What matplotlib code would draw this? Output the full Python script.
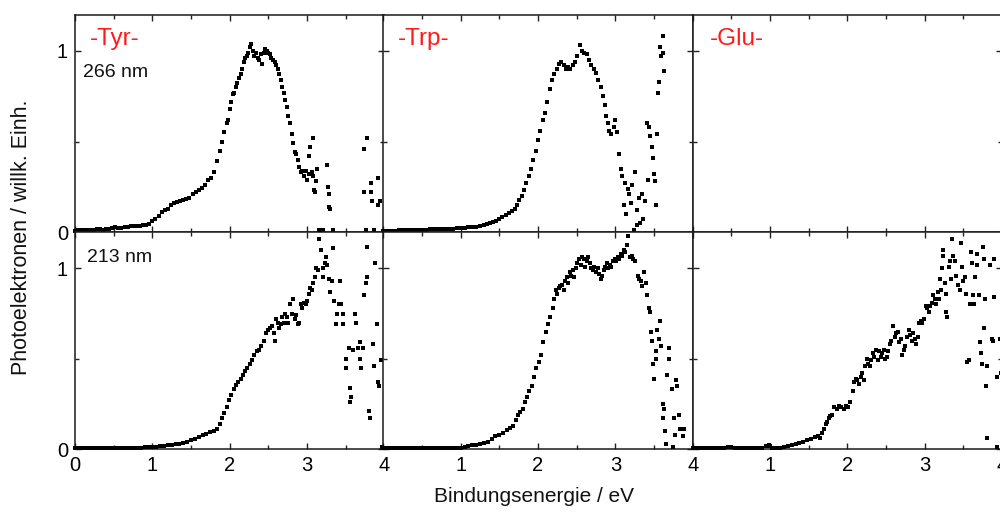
import matplotlib
matplotlib.use("Agg")
import matplotlib.pyplot as plt
from matplotlib.ticker import MultipleLocator, FixedLocator

plt.rcParams['font.family'] = ['Liberation Sans', 'DejaVu Sans']

# --- photoelectron spectra (binding energy in eV, normalised intensity) ---
tyr266_x = [0.00, 0.04, 0.08, 0.12, 0.16, 0.20, 0.24, 0.28, 0.32, 0.36, 0.40, 0.44, 0.48, 0.52,
            0.56, 0.60, 0.64, 0.68, 0.72, 0.76, 0.80, 0.84, 0.88, 0.92, 0.96, 1.00, 1.04, 1.08,
            1.12, 1.16, 1.20, 1.24, 1.28, 1.32, 1.36, 1.40, 1.44, 1.48, 1.52, 1.56, 1.60, 1.64,
            1.68, 1.72, 1.76, 1.80, 1.84, 1.87, 1.90, 1.93, 1.96, 1.98, 2.00, 2.02, 2.04, 2.06,
            2.08, 2.10, 2.12, 2.14, 2.16, 2.18, 2.20, 2.22, 2.24, 2.26, 2.28, 2.30, 2.32, 2.34,
            2.36, 2.38, 2.40, 2.42, 2.44, 2.46, 2.48, 2.50, 2.52, 2.54, 2.56, 2.58, 2.60, 2.62,
            2.64, 2.66, 2.68, 2.70, 2.72, 2.74, 2.76, 2.78, 2.80, 2.82, 2.84, 2.86, 2.88, 2.90,
            2.92, 2.94, 2.96, 2.98, 3.00, 3.02, 3.03, 3.04, 3.08, 3.06, 3.08, 3.09, 3.10, 3.12,
            3.13, 3.16, 3.18, 3.20, 3.26, 3.27, 3.28, 3.29, 3.30, 3.33, 3.74, 3.74, 3.76, 3.78,
            3.83, 3.83, 3.84, 3.86, 3.92, 3.92, 3.94]
tyr266_y = [0.008, 0.010, 0.010, 0.012, 0.011, 0.013, 0.014, 0.018, 0.015, 0.013, 0.016, 0.020,
            0.025, 0.028, 0.024, 0.022, 0.027, 0.030, 0.032, 0.034, 0.036, 0.035, 0.040, 0.042,
            0.046, 0.060, 0.070, 0.090, 0.110, 0.120, 0.130, 0.150, 0.160, 0.165, 0.170, 0.180,
            0.185, 0.190, 0.210, 0.220, 0.230, 0.245, 0.260, 0.290, 0.300, 0.330, 0.390, 0.450,
            0.500, 0.550, 0.600, 0.620, 0.680, 0.720, 0.760, 0.770, 0.800, 0.820, 0.850, 0.870,
            0.900, 0.940, 0.960, 0.970, 0.990, 1.020, 1.040, 1.000, 0.970, 0.990, 0.960, 0.950,
            0.980, 0.930, 0.990, 1.010, 1.000, 0.990, 0.980, 0.960, 0.950, 0.940, 0.920, 0.900,
            0.870, 0.840, 0.800, 0.770, 0.730, 0.690, 0.640, 0.600, 0.540, 0.490, 0.440, 0.430,
            0.400, 0.360, 0.330, 0.340, 0.310, 0.340, 0.290, 0.320, 0.420, 0.470, 0.520, 0.330,
            0.310, 0.230, 0.220, 0.280, 0.350, 0.010, 0.005, 0.010, 0.370, 0.250, 0.210, 0.140,
            0.130, 0.010, 0.460, 0.220, 0.010, 0.520, 0.270, 0.220, 0.170, 0.010, 0.300, 0.150,
            0.170]

tyr213_x = [0.00, 0.05, 0.10, 0.15, 0.20, 0.25, 0.30, 0.35, 0.40, 0.45, 0.50, 0.55, 0.60, 0.65,
            0.70, 0.75, 0.80, 0.85, 0.90, 0.95, 1.00, 1.05, 1.10, 1.15, 1.20, 1.25, 1.30, 1.35,
            1.40, 1.45, 1.50, 1.55, 1.60, 1.65, 1.70, 1.75, 1.80, 1.84, 1.87, 1.90, 1.93, 1.96,
            1.99, 2.02, 2.05, 2.08, 2.11, 2.14, 2.17, 2.20, 2.23, 2.26, 2.29, 2.32, 2.35, 2.38,
            2.41, 2.44, 2.47, 2.50, 2.52, 2.55, 2.57, 2.58, 2.60, 2.62, 2.64, 2.66, 2.68, 2.70,
            2.72, 2.74, 2.76, 2.78, 2.80, 2.82, 2.84, 2.86, 2.88, 2.90, 2.92, 2.94, 2.96, 2.98,
            3.00, 3.02, 3.04, 3.06, 3.08, 3.10, 3.12, 3.14, 3.16, 3.16, 3.18, 3.20, 3.21, 3.23,
            3.24, 3.26, 3.28, 3.30, 3.32, 3.34, 3.35, 3.37, 3.39, 3.41, 3.43, 3.44, 3.46, 3.47,
            3.50, 3.51, 3.54, 3.55, 3.56, 3.57, 3.60, 3.62, 3.63, 3.66, 3.68, 3.69, 3.70, 3.72,
            3.74, 3.76, 3.77, 3.78, 3.80, 3.82, 3.85, 3.86, 3.88, 3.90, 3.92, 3.93, 3.96, 3.97]
tyr213_y = [0.004, 0.004, 0.005, 0.004, 0.003, 0.004, 0.005, 0.004, 0.003, 0.004, 0.005, 0.006,
            0.005, 0.006, 0.007, 0.008, 0.007, 0.008, 0.010, 0.010, 0.010, 0.012, 0.014, 0.016,
            0.020, 0.022, 0.028, 0.030, 0.034, 0.040, 0.048, 0.058, 0.065, 0.075, 0.085, 0.092,
            0.100, 0.110, 0.140, 0.170, 0.200, 0.235, 0.270, 0.300, 0.330, 0.355, 0.370, 0.390,
            0.410, 0.430, 0.450, 0.470, 0.490, 0.520, 0.540, 0.550, 0.570, 0.600, 0.640, 0.660,
            0.670, 0.680, 0.640, 0.600, 0.720, 0.700, 0.670, 0.690, 0.730, 0.700, 0.750, 0.730,
            0.700, 0.800, 0.750, 0.830, 0.720, 0.740, 0.690, 0.700, 0.800, 0.780, 0.810, 0.800,
            0.820, 0.860, 0.890, 0.880, 0.920, 0.950, 1.000, 0.990, 1.160, 1.210, 1.100, 1.000,
            0.950, 1.030, 1.060, 1.020, 0.940, 0.870, 0.930, 1.110, 0.820, 0.690, 0.750, 0.800,
            0.930, 0.800, 0.750, 0.690, 0.500, 0.450, 0.560, 0.340, 0.260, 0.290, 0.550, 0.750,
            0.700, 0.560, 0.590, 0.500, 0.450, 0.560, 0.850, 0.920, 1.120, 0.950, 0.210, 0.170,
            0.580, 0.460, 1.030, 0.690, 0.370, 0.350, 0.490, 0.010]

trp266_x = [0.00, 0.05, 0.10, 0.15, 0.20, 0.25, 0.30, 0.35, 0.40, 0.45, 0.50, 0.55, 0.60, 0.65,
            0.70, 0.75, 0.80, 0.85, 0.90, 0.95, 1.00, 1.05, 1.10, 1.15, 1.20, 1.25, 1.30, 1.34,
            1.38, 1.42, 1.46, 1.50, 1.54, 1.58, 1.62, 1.66, 1.70, 1.73, 1.76, 1.79, 1.82, 1.85,
            1.88, 1.91, 1.94, 1.97, 2.00, 2.03, 2.06, 2.09, 2.12, 2.15, 2.18, 2.21, 2.24, 2.27,
            2.30, 2.33, 2.36, 2.39, 2.42, 2.45, 2.48, 2.51, 2.54, 2.57, 2.60, 2.63, 2.66, 2.69,
            2.72, 2.75, 2.78, 2.81, 2.84, 2.86, 2.88, 2.90, 2.92, 2.95, 2.98, 3.00, 3.02, 3.05,
            3.07, 3.09, 3.11, 3.13, 3.14, 3.16, 3.18, 3.20, 3.22, 3.24, 3.26, 3.28, 3.30, 3.32,
            3.34, 3.36, 3.38, 3.41, 3.42, 3.44, 3.45, 3.47, 3.49, 3.50, 3.51, 3.52, 3.54, 3.55,
            3.57, 3.58, 3.59, 3.61, 3.62, 3.63]
trp266_y = [0.008, 0.008, 0.009, 0.009, 0.010, 0.010, 0.011, 0.012, 0.012, 0.013, 0.013, 0.014,
            0.015, 0.016, 0.016, 0.018, 0.018, 0.020, 0.020, 0.022, 0.022, 0.024, 0.026, 0.028,
            0.030, 0.032, 0.038, 0.046, 0.050, 0.058, 0.064, 0.070, 0.085, 0.095, 0.105, 0.115,
            0.130, 0.150, 0.175, 0.200, 0.230, 0.270, 0.310, 0.350, 0.400, 0.450, 0.510, 0.560,
            0.620, 0.660, 0.720, 0.790, 0.840, 0.870, 0.900, 0.930, 0.940, 0.920, 0.900, 0.910,
            0.900, 0.920, 0.940, 0.970, 1.030, 1.000, 0.990, 0.980, 0.950, 0.920, 0.900, 0.880,
            0.840, 0.800, 0.750, 0.700, 0.640, 0.600, 0.560, 0.540, 0.580, 0.620, 0.550, 0.430,
            0.350, 0.310, 0.150, 0.270, 0.100, 0.240, 0.210, 0.160, 0.260, 0.010, 0.330, 0.120,
            0.190, 0.050, 0.210, 0.070, 0.170, 0.600, 0.290, 0.580, 0.530, 0.470, 0.410, 0.320,
            0.280, 0.150, 0.540, 0.770, 0.830, 1.020, 0.970, 1.080, 0.990, 0.890]

trp213_x = [0.00, 0.05, 0.10, 0.15, 0.20, 0.25, 0.30, 0.35, 0.40, 0.45, 0.50, 0.55, 0.60, 0.65,
            0.70, 0.75, 0.80, 0.85, 0.90, 0.95, 1.00, 1.05, 1.10, 1.15, 1.20, 1.25, 1.30, 1.35,
            1.40, 1.45, 1.50, 1.55, 1.60, 1.64, 1.68, 1.71, 1.74, 1.77, 1.80, 1.83, 1.86, 1.89,
            1.92, 1.95, 1.98, 2.01, 2.04, 2.07, 2.10, 2.13, 2.16, 2.19, 2.21, 2.23, 2.25, 2.27,
            2.29, 2.31, 2.33, 2.35, 2.37, 2.39, 2.41, 2.43, 2.45, 2.47, 2.49, 2.51, 2.53, 2.55,
            2.57, 2.59, 2.61, 2.63, 2.65, 2.67, 2.69, 2.71, 2.73, 2.75, 2.77, 2.79, 2.81, 2.83,
            2.85, 2.87, 2.89, 2.91, 2.93, 2.95, 2.97, 2.99, 3.01, 3.03, 3.05, 3.07, 3.09, 3.11,
            3.13, 3.15, 3.17, 3.19, 3.21, 3.23, 3.25, 3.28, 3.29, 3.31, 3.33, 3.35, 3.37, 3.39,
            3.41, 3.43, 3.45, 3.46, 3.47, 3.49, 3.50, 3.52, 3.53, 3.54, 3.56, 3.58, 3.59, 3.61,
            3.62, 3.63, 3.64, 3.65, 3.67, 3.69, 3.70, 3.73, 3.74, 3.76, 3.77, 3.79, 3.80, 3.82,
            3.84, 3.88, 3.89]
trp213_y = [0.003, 0.003, 0.004, 0.004, 0.003, 0.004, 0.004, 0.005, 0.004, 0.005, 0.005, 0.005,
            0.006, 0.006, 0.006, 0.007, 0.007, 0.007, 0.008, 0.008, 0.008, 0.012, 0.018, 0.020,
            0.022, 0.028, 0.032, 0.040, 0.055, 0.070, 0.080, 0.090, 0.105, 0.115, 0.125, 0.160,
            0.190, 0.205, 0.220, 0.260, 0.290, 0.320, 0.350, 0.400, 0.450, 0.480, 0.520, 0.590,
            0.650, 0.690, 0.730, 0.780, 0.830, 0.880, 0.860, 0.890, 0.900, 0.910, 0.880, 0.930,
            0.950, 0.920, 0.980, 0.960, 0.990, 0.950, 1.000, 1.030, 1.050, 1.020, 1.060, 1.050,
            1.010, 1.040, 1.060, 1.030, 1.000, 0.990, 1.010, 0.980, 1.000, 0.970, 0.940, 0.960,
            0.990, 1.010, 1.030, 1.000, 1.020, 1.010, 1.040, 1.050, 1.040, 1.060, 1.050, 1.080,
            1.070, 1.100, 1.090, 1.130, 1.180, 1.060, 1.070, 1.050, 1.040, 1.240, 0.960, 0.940,
            0.930, 0.900, 0.980, 0.920, 0.850, 0.780, 0.760, 0.650, 0.600, 0.470, 0.390, 0.540,
            0.500, 0.660, 0.610, 0.710, 0.570, 0.250, 0.170, 0.220, 0.100, 0.030, 0.410, 0.560,
            0.500, 0.330, 0.010, 0.170, 0.080, 0.380, 0.350, 0.190, 0.110, 0.070, 0.110]

glu213_x = [0.00, 0.05, 0.10, 0.15, 0.20, 0.25, 0.30, 0.35, 0.40, 0.45, 0.50, 0.55, 0.60, 0.65,
            0.70, 0.75, 0.80, 0.85, 0.90, 0.95, 0.98, 1.00, 1.03, 1.08, 1.13, 1.18, 1.23, 1.28,
            1.33, 1.38, 1.43, 1.48, 1.53, 1.58, 1.62, 1.65, 1.67, 1.70, 1.72, 1.74, 1.76, 1.78,
            1.80, 1.83, 1.86, 1.89, 1.92, 1.95, 1.98, 2.01, 2.04, 2.07, 2.09, 2.11, 2.13, 2.15,
            2.17, 2.19, 2.21, 2.23, 2.25, 2.27, 2.29, 2.31, 2.33, 2.35, 2.37, 2.39, 2.41, 2.43,
            2.45, 2.47, 2.49, 2.51, 2.53, 2.55, 2.57, 2.59, 2.61, 2.63, 2.65, 2.67, 2.69, 2.71,
            2.73, 2.75, 2.77, 2.79, 2.81, 2.83, 2.85, 2.87, 2.89, 2.91, 2.93, 2.95, 2.97, 2.99,
            3.01, 3.03, 3.05, 3.07, 3.09, 3.11, 3.13, 3.15, 3.17, 3.18, 3.20, 3.21, 3.22, 3.23,
            3.24, 3.26, 3.27, 3.28, 3.29, 3.31, 3.32, 3.34, 3.35, 3.37, 3.39, 3.41, 3.43, 3.45,
            3.47, 3.48, 3.50, 3.52, 3.53, 3.55, 3.57, 3.58, 3.60, 3.61, 3.63, 3.64, 3.65, 3.67,
            3.68, 3.70, 3.72, 3.73, 3.74, 3.75, 3.76, 3.77, 3.78, 3.79, 3.80, 3.81, 3.85, 3.87,
            3.88, 3.89, 3.90, 3.93, 3.94, 3.97, 3.98]
glu213_y = [0.005, 0.006, 0.006, 0.005, 0.004, 0.004, 0.005, 0.004, 0.006, 0.012, 0.010, 0.005,
            0.004, 0.004, 0.005, 0.004, 0.004, 0.005, 0.006, 0.015, 0.022, 0.018, 0.008, 0.005,
            0.006, 0.010, 0.014, 0.020, 0.026, 0.032, 0.040, 0.048, 0.055, 0.065, 0.072, 0.060,
            0.090, 0.110, 0.140, 0.150, 0.170, 0.180, 0.190, 0.230, 0.220, 0.240, 0.230, 0.220,
            0.240, 0.230, 0.260, 0.320, 0.370, 0.390, 0.380, 0.360, 0.400, 0.420, 0.380, 0.460,
            0.500, 0.470, 0.460, 0.490, 0.530, 0.510, 0.550, 0.490, 0.540, 0.510, 0.530, 0.550,
            0.500, 0.510, 0.540, 0.580, 0.600, 0.680, 0.620, 0.640, 0.650, 0.590, 0.610, 0.520,
            0.550, 0.570, 0.620, 0.660, 0.630, 0.600, 0.640, 0.610, 0.580, 0.620, 0.700, 0.710,
            0.700, 0.720, 0.790, 0.780, 0.760, 0.790, 0.810, 0.850, 0.830, 0.800, 0.870, 0.830,
            0.940, 0.880, 1.000, 1.070, 1.100, 0.920, 0.860, 0.760, 0.730, 1.010, 1.040, 0.940,
            1.160, 1.070, 1.040, 0.960, 0.910, 0.880, 1.140, 1.010, 0.930, 0.950, 0.860, 0.480,
            0.490, 0.800, 1.090, 1.030, 0.850, 0.800, 0.950, 1.080, 1.020, 0.850, 0.590, 0.530,
            0.470, 1.120, 0.670, 1.050, 0.830, 0.350, 0.460, 0.060, 1.020, 0.610, 0.600, 1.050,
            0.840, 0.400, 0.010, 0.610, 0.420]

panel_titles = ['-Tyr-', '-Trp-', '-Glu-']
wavelength_labels = ['266 nm', '213 nm']
x_label = 'Bindungsenergie / eV'
y_label = 'Photoelektronen / willk. Einh.'

rows = [
    [(tyr266_x, tyr266_y), (trp266_x, trp266_y), None],
    [(tyr213_x, tyr213_y), (trp213_x, trp213_y), (glu213_x, glu213_y)],
]

fig = plt.figure(figsize=(10, 5.12), dpi=100)

col_left = [0.075, 0.3833, 0.6927]
col_width = 0.3094
row_bottom = [0.5465, 0.1230]
row_height = [0.425, 0.4235]

axes = [[None] * 3 for _ in range(2)]
for r in range(2):
    for c in range(3):
        ax = fig.add_axes([col_left[c], row_bottom[r], col_width, row_height[r]])
        axes[r][c] = ax
        ax.set_xlim(0, 4)
        ax.set_ylim(0, 1.2)
        ax.xaxis.set_major_locator(MultipleLocator(1))
        ax.xaxis.set_minor_locator(MultipleLocator(0.5))
        ax.yaxis.set_major_locator(FixedLocator([0, 1]))
        ax.yaxis.set_minor_locator(FixedLocator([0.5]))
        ax.tick_params(which='both', direction='in', top=True, right=True,
                       width=1.0, color='#222222', labelsize=14.5)
        ax.tick_params(which='major', length=4)
        ax.tick_params(which='minor', length=3)
        ax.tick_params(axis='x', pad=5)
        ax.tick_params(axis='y', pad=5)
        for sp in ax.spines.values():
            sp.set_linewidth(1.1)
            sp.set_color('#1a1a1a')

        if r == 0:
            ax.tick_params(labelbottom=False)
        else:
            if c == 0:
                ax.set_xticks([0, 1, 2, 3, 4], ['0', '1', '2', '3', '4'])
            else:
                ax.set_xticks([0, 1, 2, 3, 4], ['', '1', '2', '3', '4'])
        if c == 0:
            ax.set_yticks([0, 1], ['0', '1'])
        else:
            ax.tick_params(labelleft=False)

        data = rows[r][c]
        if data is not None:
            ax.plot(data[0], data[1], linestyle='none', marker='s', markersize=2.7,
                    markeredgewidth=0, color='black', clip_on=False, zorder=3)

for c, title in enumerate(panel_titles):
    axes[0][c].text(0.048 if c < 2 else 0.055, 0.858, title, transform=axes[0][c].transAxes,
                    color='#ff1a1a', fontsize=17.5, ha='left', va='baseline')

axes[0][0].text(0.026, 0.711, wavelength_labels[0], transform=axes[0][0].transAxes,
                fontsize=14, ha='left', va='baseline', color='#111111')
axes[1][0].text(0.040, 0.862, wavelength_labels[1], transform=axes[1][0].transAxes,
                fontsize=14, ha='left', va='baseline', color='#111111')

fig.text(0.022, 0.537, y_label, rotation=90, ha='center', va='center', fontsize=15.5,
         color='#111111')
fig.text(0.534, 0.030, x_label, ha='center', va='center', fontsize=15, color='#111111')

fig.savefig('out.png', dpi=100)
